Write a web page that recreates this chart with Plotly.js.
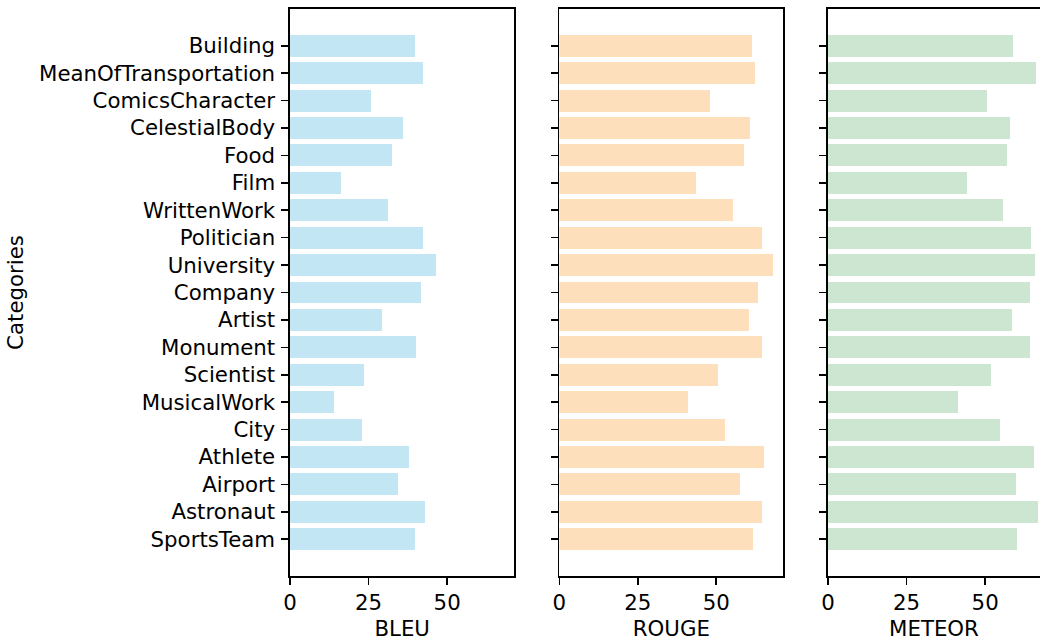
<!DOCTYPE html>
<html>
<head>
<meta charset="utf-8">
<script src="https://cdn.plot.ly/plotly-3.0.1.min.js"></script>
<style>html,body{margin:0;padding:0;background:#fff;overflow:hidden}#chart{width:1040px;height:641px}</style>
</head>
<body>
<div id="chart"></div>
<script>
const categories = ["Building","MeanOfTransportation","ComicsCharacter","CelestialBody","Food","Film","WrittenWork","Politician","University","Company","Artist","Monument","Scientist","MusicalWork","City","Athlete","Airport","Astronaut","SportsTeam"];
const bleu =   [39.9, 42.4, 25.9, 35.8, 32.3, 16.1, 31.3, 42.4, 46.6, 41.8, 29.4, 40.2, 23.4, 13.9, 22.8, 38.0, 34.5, 43.1, 39.9];
const rouge =  [61.4, 62.3, 48.0, 60.7, 58.8, 43.5, 55.3, 64.5, 68.0, 63.3, 60.4, 64.5, 50.5, 41.0, 52.8, 65.2, 57.5, 64.5, 61.7];
const meteor = [58.8, 66.1, 50.5, 57.8, 56.9, 44.2, 55.6, 64.5, 65.8, 64.2, 58.5, 64.2, 51.8, 41.3, 54.7, 65.5, 59.7, 66.7, 60.0];
const metricNames = ["BLEU","ROUGE","METEOR"];
const colors = ["#c3e6f5","#fde0bb","#cce6d2"];

const FONT = {family: "DejaVu Sans", size: 21.3, color: "#000"};
const series = [bleu, rouge, meteor];
const traces = series.map((vals, i) => ({
  type: "bar", orientation: "h",
  x: vals, y: categories,
  width: 0.8,
  marker: {color: colors[i], line: {width: 0}},
  xaxis: i === 0 ? "x" : "x" + (i + 1),
  yaxis: i === 0 ? "y" : "y" + (i + 1),
  showlegend: false, hoverinfo: "x+y"
}));

const domains = [[0, 0.2992], [0.3591, 0.6578], [0.7173, 1]];
const xmax = 71.4;
const layout = {
  width: 1040, height: 641,
  margin: {l: 290, r: 0, t: 9, b: 65},
  paper_bgcolor: "#fff", plot_bgcolor: "#fff",
  font: FONT,
  bargap: 0
};
for (let i = 0; i < 3; i++) {
  const sx = i === 0 ? "" : String(i + 1);
  layout["xaxis" + sx] = {
    domain: domains[i],
    anchor: "y" + sx,
    range: [0, i === 2 ? xmax * ((1040 - 828) / 224.4) : xmax],
    tickvals: [0, 25, 50], ticktext: ["0", "25", "50"],
    ticks: "outside", ticklen: 7, tickwidth: 1.6, tickcolor: "#000",
    showline: true, linecolor: "#000", linewidth: 1.6, mirror: true,
    showgrid: false, zeroline: false,
    tickfont: FONT,
    title: {text: metricNames[i], font: FONT, standoff: 10}
  };
  layout["yaxis" + sx] = {
    anchor: "x" + sx,
    type: "category",
    categoryorder: "array", categoryarray: categories,
    range: [19.34, -1.34],
    ticks: "outside", ticklen: 7, tickwidth: 1.6, tickcolor: "#000",
    showline: true, linecolor: "#000", linewidth: 1.6, mirror: i === 2 ? false : true,
    showgrid: false, zeroline: false,
    showticklabels: i === 0,
    tickfont: FONT,
    ticklabelstandoff: 2,
    title: i === 0 ? {text: "Categories", font: FONT, standoff: 9} : {text: ""}
  };
}
Plotly.newPlot("chart", traces, layout, {displayModeBar: false, staticPlot: true});
</script>
</body>
</html>
